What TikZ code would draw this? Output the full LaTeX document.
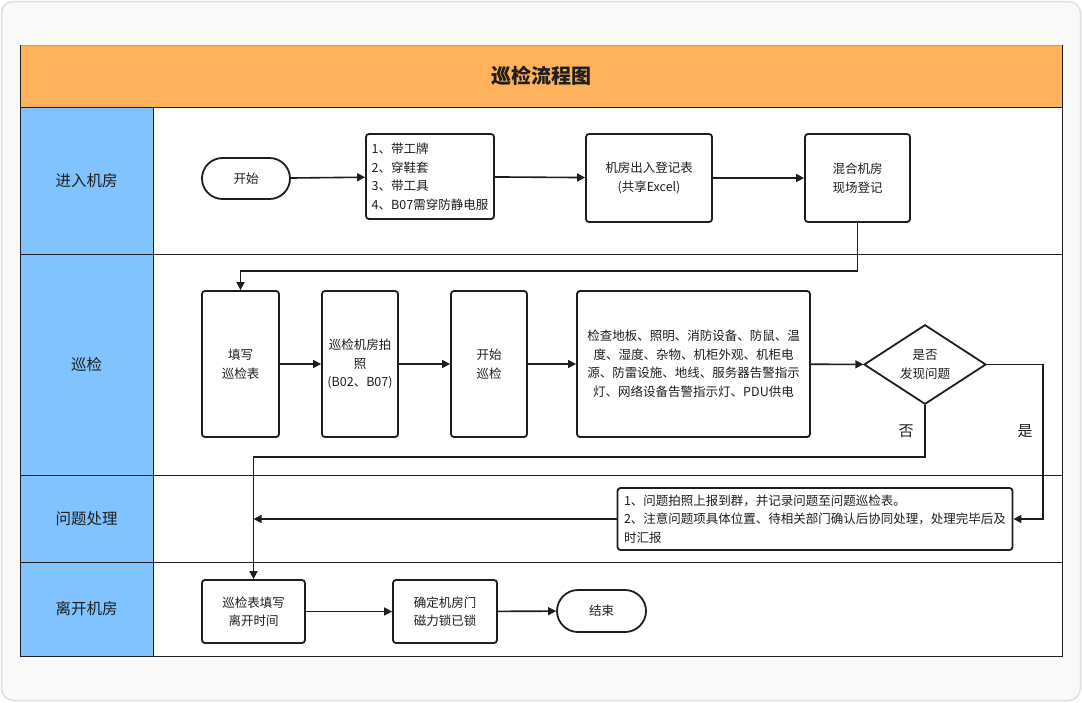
\documentclass[tikz,border=0pt]{standalone}
\usepackage{fontspec}
\setmainfont{Noto Sans CJK SC}
\usetikzlibrary{arrows.meta,shapes.geometric,shapes.misc}
\definecolor{orangeband}{HTML}{FFB25B}
\definecolor{laneblue}{HTML}{80C3FF}
\definecolor{outerbg}{HTML}{F9F9F9}
\definecolor{outerline}{HTML}{DEDEDE}
\definecolor{ink}{HTML}{1E1E1E}
\tikzset{
  nodefont/.style={font=\fontsize{12.5}{18.5}\selectfont, text=ink},
  procbox/.style={draw=ink, line width=1.8pt, rounded corners=3pt, fill=white, nodefont, inner sep=3pt, align=center},
  termbox/.style={draw=ink, line width=1.8pt, rounded rectangle, fill=white, nodefont, inner sep=0pt},
  decbox/.style={draw=ink, line width=1.8pt, diamond, fill=white, nodefont, inner sep=0pt, align=center},
  conn/.style={draw=ink, line width=1.6pt, -{Triangle[length=8pt,width=8pt]}},
  lanelabel/.style={font=\fontsize{15.5}{18}\selectfont, text=ink},
  branchlabel/.style={font=\fontsize{15}{18}\selectfont, text=ink},
  laneline/.style={draw=ink, line width=1pt}
}
\begin{document}
\begin{tikzpicture}[x=1pt,y=-1pt]
\useasboundingbox (0,0) rectangle (1082,702);
% outer card
\draw[fill=outerbg, draw=outerline, line width=1.5pt, rounded corners=12pt] (1.5,1.5) rectangle (1080.5,700.5);
% title band
\fill[orangeband] (20,45) rectangle (1062,107);
\draw[draw=gray!70, line width=0.9pt] (20,45) -- (1062,45);
\node[font=\fontsize{20}{24}\selectfont\bfseries, text=ink] (title) at (541,76) {巡检流程图};
% lane area
\fill[white] (153,107) rectangle (1062,656);
\fill[laneblue] (20,107) rectangle (153,656);
\draw[laneline] (20,45) -- (20,656) -- (1062,656) -- (1062,45);
\draw[laneline] (20,107) -- (1062,107);
\draw[laneline] (153,107) -- (153,656);
\draw[laneline] (20,254) -- (1062,254);
\draw[laneline] (20,475) -- (1062,475);
\draw[laneline] (20,562) -- (1062,562);
% lane labels
\node[lanelabel] (l1) at (86.5,180.5) {进入机房};
\node[lanelabel] (l2) at (86.5,364.5) {巡检};
\node[lanelabel] (l3) at (86.5,518.5) {问题处理};
\node[lanelabel] (l4) at (86.5,609) {离开机房};
% lane 1
\node[termbox, minimum width=88pt, minimum height=41pt] (start) at (246,178.5) {开始};
\node[procbox, minimum width=128pt, minimum height=85pt, align=left, inner xsep=3pt] (list) at (430,176.5) {1、带工牌\\2、穿鞋套\\3、带工具\\4、B07需穿防静电服};
\node[procbox, minimum width=126pt, minimum height=88pt] (reg) at (649,178) {机房出入登记表\\(共享Excel)};
\node[procbox, minimum width=105pt, minimum height=88pt] (mix) at (857.5,178) {混合机房\\现场登记};
% lane 2
\node[procbox, minimum width=77pt, minimum height=146pt] (fill) at (240.5,364) {填写\\巡检表};
\node[procbox, minimum width=76pt, minimum height=146pt] (photo) at (360,364) {巡检机房拍\\照\\(B02、B07)};
\node[procbox, minimum width=76pt, minimum height=146pt] (begin) at (489,364) {开始\\巡检};
\node[procbox, minimum width=233pt, minimum height=146pt] (check) at (693.5,364) {检查地板、照明、消防设备、防鼠、温\\度、湿度、杂物、机柜外观、机柜电\\源、防雷设施、地线、服务器告警指示\\灯、网络设备告警指示灯、PDU供电};
\node[decbox, minimum width=122pt, minimum height=77pt] (dec) at (925,364.5) {是否\\发现问题};
% lane 3
\node[procbox, minimum width=395pt, minimum height=62pt, align=left, inner xsep=3pt] (prob) at (815,519) {1、问题拍照上报到群，并记录问题至问题巡检表。\\2、注意问题项具体位置、待相关部门确认后协同处理，处理完毕后及\\时汇报};
% lane 4
\node[procbox, minimum width=103pt, minimum height=63pt] (leave) at (253.5,611.5) {巡检表填写\\离开时间};
\node[procbox, minimum width=104pt, minimum height=63pt] (lock) at (445,611.5) {确定机房门\\磁力锁已锁};
\node[termbox, minimum width=89pt, minimum height=42pt] (end) at (601.5,611) {结束};
% connectors
\draw[conn] (start) -- (list);
\draw[conn] (list) -- (reg);
\draw[conn] (reg) -- (mix);
\coordinate (loop) at (857.5,271);
\draw[conn] (mix.south) -- (loop) -| (fill.north);
\draw[conn] (fill) -- (photo);
\draw[conn] (photo) -- (begin);
\draw[conn] (begin) -- (check);
\draw[conn] (check) -- (dec);
\coordinate (nopt) at (925,457);
\draw[conn] (dec.south) -- (nopt) -| (leave.north);
\coordinate (yespt) at (1043,364.5);
\draw[conn] (dec.east) -- (yespt) |- (prob.east);
\draw[conn] (prob.west) -- (prob.west -| leave.north);
\draw[conn] (leave) -- (lock);
\draw[conn] (lock) -- (end);
\node[branchlabel] (nolabel) at (906,431) {否};
\node[branchlabel] (yeslabel) at (1025,431) {是};
\end{tikzpicture}
\end{document}
